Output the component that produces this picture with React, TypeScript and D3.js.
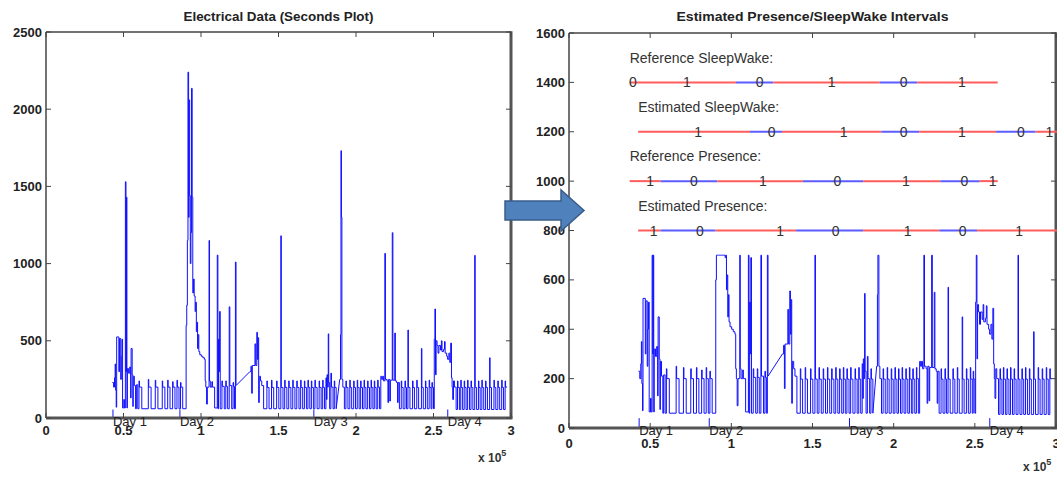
import React from 'react';
import * as d3 from 'd3';

// ---------- data (time in units of 1e5 s) ----------
const xTicks = [0, 0.5, 1, 1.5, 2, 2.5, 3];
const xTickLabels = ['0', '0.5', '1', '1.5', '2', '2.5', '3'];
const leftYTicks = [0, 500, 1000, 1500, 2000, 2500];
const rightYTicks = [0, 200, 400, 600, 800, 1000, 1200, 1400, 1600];

const dayT = [0.432, 0.864, 1.728, 2.592];
const dayLabels = ['Day 1', 'Day 2', 'Day 3', 'Day 4'];

const rampStarts = [1.226, 1.872];
const rightCap = 700;

const signalDay1: [number, number][] = [
  [0.428, 230], [0.436, 200], [0.442, 260], [0.446, 350], [0.449, 180], [0.453, 70], [0.456, 525], [0.47, 300],
  [0.474, 515], [0.482, 250], [0.486, 400], [0.49, 510], [0.494, 65], [0.502, 120], [0.506, 65], [0.512, 1530],
  [0.516, 300], [0.519, 1430], [0.522, 65], [0.525, 320], [0.533, 290], [0.54, 330], [0.546, 130], [0.549, 450],
  [0.556, 280], [0.56, 75], [0.563, 270], [0.57, 210], [0.578, 60],
  [0.583, 215], [0.592, 60],
  [0.6, 240], [0.603, 200], [0.618, 60],
  [0.66, 250], [0.663, 200], [0.678, 60],
  [0.705, 245], [0.708, 200], [0.722, 60],
  [0.75, 240], [0.753, 200], [0.767, 60],
  [0.785, 245], [0.788, 200], [0.8, 60],
  [0.817, 235], [0.82, 200], [0.832, 60],
  [0.845, 245], [0.848, 200], [0.858, 60],
  [0.868, 230], [0.871, 200], [0.882, 60],
];

const signalDay2: [number, number][] = [
  [0.904, 600], [0.908, 730], [0.912, 1150], [0.916, 2240], [0.92, 1300], [0.923, 2060], [0.927, 1440],
  [0.931, 1000], [0.935, 1200], [0.939, 2135], [0.943, 1430], [0.947, 810], [0.952, 900], [0.956, 790],
  [0.962, 690], [0.966, 750], [0.97, 560], [0.974, 620], [0.978, 450], [0.982, 540], [0.986, 430],
  [0.992, 410], [1.002, 400], [1.012, 390], [1.022, 380], [1.027, 240], [1.031, 200], [1.036, 90], [1.041, 200],
  [1.052, 1150], [1.055, 240], [1.06, 200], [1.07, 235], [1.074, 200], [1.088, 65],
  [1.105, 1055], [1.109, 60], [1.113, 510], [1.117, 300], [1.12, 690], [1.124, 60],
  [1.135, 240], [1.138, 205], [1.15, 60],
  [1.16, 240], [1.163, 205], [1.172, 60],
  [1.182, 720], [1.186, 210], [1.198, 60],
  [1.207, 230], [1.21, 205], [1.216, 60],
  [1.222, 1010], [1.226, 210],
  [1.315, 300], [1.322, 335], [1.327, 160], [1.331, 340], [1.348, 480], [1.353, 340], [1.36, 555], [1.364, 380],
  [1.368, 520], [1.372, 100], [1.376, 270], [1.384, 240], [1.392, 210], [1.404, 60],
];

const signalDay3: [number, number][] = [
  [1.425, 240], [1.428, 198], [1.439, 60],
  [1.455, 245], [1.458, 198], [1.469, 60],
  [1.488, 240], [1.491, 198], [1.502, 60],
  [1.515, 1180], [1.518, 198], [1.529, 60],
  [1.54, 245], [1.543, 198], [1.554, 60],
  [1.566, 240], [1.569, 198], [1.58, 60],
  [1.592, 245], [1.595, 198], [1.606, 60],
  [1.618, 240], [1.621, 198], [1.632, 60],
  [1.643, 245], [1.646, 198], [1.656, 60],
  [1.667, 240], [1.67, 198], [1.68, 60],
  [1.69, 245], [1.693, 198], [1.702, 60],
  [1.712, 240], [1.715, 198], [1.725, 60],
  [1.735, 245], [1.738, 198], [1.749, 60],
  [1.762, 240], [1.765, 198], [1.775, 60],
  [1.785, 245], [1.788, 198], [1.797, 60],
  [1.806, 260], [1.81, 120], [1.813, 280], [1.817, 200], [1.821, 545], [1.824, 230], [1.83, 60],
  [1.838, 290], [1.842, 200], [1.852, 60],
  [1.86, 240], [1.863, 198], [1.872, 60],
  [1.895, 250], [1.9, 540], [1.903, 1731], [1.906, 1300], [1.909, 250], [1.915, 200], [1.925, 60],
  [1.935, 240], [1.938, 198], [1.948, 60],
  [1.96, 245], [1.963, 198], [1.972, 60],
  [1.985, 240], [1.988, 198], [1.997, 60],
  [2.008, 245], [2.011, 198], [2.02, 60],
  [2.03, 240], [2.033, 198], [2.042, 60],
  [2.052, 245], [2.055, 198], [2.064, 60],
  [2.075, 240], [2.078, 198], [2.087, 60],
  [2.097, 245], [2.1, 198], [2.109, 60],
  [2.118, 240], [2.121, 198], [2.13, 60],
  [2.14, 245], [2.143, 200], [2.152, 60],
  [2.16, 270], [2.166, 250], [2.172, 270], [2.178, 240], [2.186, 1066], [2.19, 250], [2.2, 240], [2.206, 100],
  [2.21, 250], [2.218, 110], [2.222, 245], [2.234, 1200], [2.238, 245], [2.25, 550], [2.254, 240], [2.262, 230],
  [2.268, 100], [2.272, 230], [2.28, 60],
  [2.292, 240], [2.295, 198], [2.304, 60],
  [2.316, 240], [2.319, 198], [2.326, 60],
  [2.335, 570], [2.338, 198], [2.348, 60],
  [2.365, 240], [2.368, 198], [2.377, 60],
  [2.392, 245], [2.395, 198], [2.404, 60],
  [2.422, 450], [2.425, 198], [2.434, 60],
  [2.448, 240], [2.451, 198], [2.46, 60],
  [2.472, 245], [2.475, 198], [2.484, 60],
  [2.49, 230], [2.493, 198], [2.5, 60],
];

const signalDay4: [number, number][] = [
  [2.505, 510], [2.509, 706], [2.513, 280], [2.517, 500], [2.523, 470], [2.529, 420], [2.535, 470], [2.545, 440],
  [2.551, 500], [2.555, 430], [2.565, 445], [2.571, 495], [2.575, 420], [2.585, 400], [2.591, 380], [2.599, 420],
  [2.605, 360], [2.611, 485], [2.616, 260], [2.62, 200], [2.624, 120], [2.629, 240], [2.635, 200], [2.646, 55],
  [2.655, 240], [2.658, 198], [2.667, 55],
  [2.676, 245], [2.679, 198], [2.688, 55],
  [2.698, 240], [2.701, 198], [2.71, 55],
  [2.72, 245], [2.723, 198], [2.732, 55],
  [2.742, 240], [2.745, 198], [2.754, 55],
  [2.766, 1053], [2.769, 198], [2.778, 55],
  [2.79, 240], [2.793, 198], [2.801, 55],
  [2.812, 245], [2.815, 198], [2.824, 55],
  [2.836, 240], [2.839, 198], [2.848, 55],
  [2.862, 390], [2.865, 198], [2.874, 55],
  [2.89, 245], [2.893, 198], [2.902, 55],
  [2.915, 240], [2.918, 198], [2.927, 55],
  [2.94, 245], [2.943, 198], [2.952, 55],
  [2.962, 240], [2.965, 200], [2.975, 200],
];

// interval rows on the right panel
const rowNames = ['Reference SleepWake:', 'Estimated SleepWake:', 'Reference Presence:', 'Estimated Presence:'];
const rowLevels = [1400, 1200, 1000, 800];
const rowTextX = [0.374, 0.426, 0.374, 0.426];
const refSleepWakeEdges = [0.374, 0.378, 1.028, 1.259, 1.914, 2.146, 2.641];
const refSleepWakeStates = [0, 1, 0, 1, 0, 1];
const refSleepWakeLabelT = [0.394, 0.726, 1.175, 1.618, 2.062, 2.42];
const estSleepWakeEdges = [0.426, 1.115, 1.312, 1.924, 2.157, 2.631, 2.874, 3.06];
const estSleepWakeStates = [1, 0, 1, 0, 1, 0, 1];
const estSleepWakeLabelT = [0.795, 1.249, 1.692, 2.062, 2.42, 2.783, 2.96];
const refPresenceEdges = [0.374, 0.564, 0.914, 1.441, 1.812, 2.287, 2.53, 2.641];
const refPresenceStates = [1, 0, 1, 0, 1, 0, 1];
const refPresenceLabelT = [0.5, 0.769, 1.194, 1.653, 2.076, 2.435, 2.61];
const estPresenceEdges = [0.426, 0.564, 0.902, 1.399, 1.812, 2.281, 2.514, 3.06];
const estPresenceStates = [1, 0, 1, 0, 1, 0, 1];
const estPresenceLabelT = [0.522, 0.807, 1.3, 1.642, 2.086, 2.425, 2.773];

// ---------- helpers ----------
const signal = [...signalDay1, ...signalDay2, ...signalDay3, ...signalDay4];
const FONT = '"Liberation Sans", Arial, sans-serif';
const RED = '#ff5c5c';
const BLUE = '#5c5cff';

function stepPath(points: [number, number][], x: any, y: any, cap: number) {
  const verts: [number, number][] = [];
  for (let i = 0; i < points.length; i++) {
    const [t, v] = points[i];
    const vv = Math.min(v, cap);
    verts.push([t, vv]);
    if (i + 1 < points.length && !rampStarts.includes(t)) verts.push([points[i + 1][0], vv]);
  }
  return d3.line<[number, number]>().x((d) => x(d[0])).y((d) => y(d[1]))(verts) || '';
}

type PanelProps = {
  x0: number; x1: number; y0: number; y1: number; yMax: number; yTicks: number[];
  cap: number; markerV: number; title: string; titleLen: number;
  xLabelDy: number; dayDy: number; expY: number;
};

function Panel(p: PanelProps) {
  const x = d3.scaleLinear().domain([0, 3]).range([p.x0, p.x1]);
  const y = d3.scaleLinear().domain([0, p.yMax]).range([p.y1, p.y0]);
  const tick = 5;
  return (
    <g>
      <text x={(p.x0 + p.x1) / 2} y={17} textAnchor="middle" dominantBaseline="central" fontFamily={FONT}
        fontWeight="bold" fontSize={12} fill="#222" textLength={p.titleLen} lengthAdjust="spacingAndGlyphs">{p.title}</text>
      {/* signal */}
      <path d={stepPath(signal, x, y, p.cap)} fill="none" stroke="#1010ff" strokeWidth={1} />
      {/* day markers */}
      {dayT.map((t, i) => (
        <g key={'d' + i}>
          <line x1={x(t)} x2={x(t)} y1={y(0)} y2={y(p.markerV)} stroke="#1010ff" strokeWidth={1} />
        </g>
      ))}
      {/* box */}
      <line x1={p.x0} x2={p.x0} y1={p.y0} y2={p.y1} stroke="#444" strokeWidth={1.5} />
      <line x1={p.x0} x2={p.x1} y1={p.y0} y2={p.y0} stroke="#444" strokeWidth={1.5} />
      <line x1={p.x0} x2={p.x1 + 1.5} y1={p.y1} y2={p.y1} stroke="#555" strokeWidth={3} />
      <line x1={p.x1} x2={p.x1} y1={p.y0 - 0.75} y2={p.y1} stroke="#555" strokeWidth={3} />
      {xTicks.map((t, i) => (
        <g key={'xt' + i}>
          <line x1={x(t)} x2={x(t)} y1={p.y1} y2={p.y1 - tick} stroke="#444" />
          <line x1={x(t)} x2={x(t)} y1={p.y0} y2={p.y0 + tick} stroke="#444" />
          <text x={x(t)} y={p.y1 + p.xLabelDy} textAnchor="middle" fontFamily={FONT} fontWeight="bold"
            fontSize={13} fill="#222">{xTickLabels[i]}</text>
        </g>
      ))}
      {p.yTicks.map((v, i) => (
        <g key={'yt' + i}>
          <line x1={p.x0} x2={p.x0 + tick} y1={y(v)} y2={y(v)} stroke="#444" />
          <line x1={p.x1} x2={p.x1 - tick} y1={y(v)} y2={y(v)} stroke="#444" />
          <text x={p.x0 - 4} y={y(v)} textAnchor="end" dominantBaseline="central" fontFamily={FONT}
            fontWeight="bold" fontSize={13} fill="#222">{v}</text>
        </g>
      ))}
      {dayT.map((t, i) => (
        <text key={'dl' + i} x={x(t)} y={p.y1 + p.dayDy} fontFamily={FONT} fontSize={13} fill="#222">{dayLabels[i]}</text>
      ))}
      <text x={p.x1 - 33} y={p.expY} fontFamily={FONT} fontWeight="bold" fontSize={12} fill="#333">
        x 10<tspan dy={-6} fontSize={9}>5</tspan>
      </text>
    </g>
  );
}

function IntervalRow(props: { edges: number[]; states: number[]; labelT: number[]; level: number; name: string; textT: number; x: any; y: any }) {
  const { edges, states, labelT, level, name, textT, x, y } = props;
  return (
    <g>
      <text x={x(textT)} y={y(level + 100)} dominantBaseline="central" fontFamily={FONT} fontSize={14} fill="#333">{name}</text>
      {states.map((s, i) => (
        <line key={'s' + i} x1={x(edges[i])} x2={x(edges[i + 1])} y1={y(level)} y2={y(level)}
          stroke={s === 1 ? RED : BLUE} strokeWidth={2} />
      ))}
      {labelT.map((t, i) => (
        <text key={'l' + i} x={x(t)} y={y(level)} textAnchor="middle" dominantBaseline="central" fontFamily={FONT}
          fontSize={14} fill="#333">{states[i]}</text>
      ))}
    </g>
  );
}

export default function App() {
  const xR = d3.scaleLinear().domain([0, 3]).range([569, 1056]);
  const yR = d3.scaleLinear().domain([0, 1600]).range([428, 33]);
  const rows = [
    { edges: refSleepWakeEdges, states: refSleepWakeStates, labelT: refSleepWakeLabelT },
    { edges: estSleepWakeEdges, states: estSleepWakeStates, labelT: estSleepWakeLabelT },
    { edges: refPresenceEdges, states: refPresenceStates, labelT: refPresenceLabelT },
    { edges: estPresenceEdges, states: estPresenceStates, labelT: estPresenceLabelT },
  ];
  return (
    <svg width={1057} height={477} style={{ position: 'absolute', left: 0, top: 0, background: '#fff' }}>
      <rect x={0} y={0} width={1057} height={477} fill="#fff" />
      <Panel x0={46} x1={511} y0={32} y1={418} yMax={2500} yTicks={leftYTicks} cap={1e9} markerV={55}
        title="Electrical Data (Seconds Plot)" titleLen={190} xLabelDy={17} dayDy={8} expY={462} />
      <Panel x0={569} x1={1056} y0={33} y1={428} yMax={1600} yTicks={rightYTicks} cap={rightCap} markerV={40}
        title="Estimated Presence/SleepWake Intervals" titleLen={272} xLabelDy={20} dayDy={7} expY={471} />
      {rows.map((r, i) => (
        <IntervalRow key={i} edges={r.edges} states={r.states} labelT={r.labelT} level={rowLevels[i]}
          name={rowNames[i]} textT={rowTextX[i]} x={xR} y={yR} />
      ))}
      <polygon points="505,201 561,201 561,190 584,210.5 561,231 561,220 505,220" fill="#4f81bd" stroke="#385d8a" strokeWidth={1.5} />
    </svg>
  );
}
